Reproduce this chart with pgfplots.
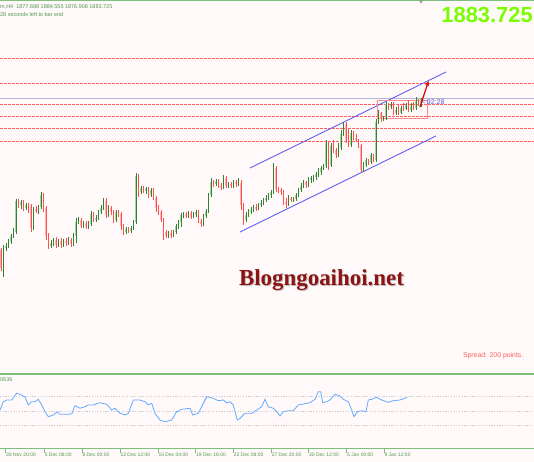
\documentclass[border=0pt]{standalone}
\usepackage{pgfplots}
\pgfplotsset{compat=1.18}
\usepackage{pgfplotstable}
\usetikzlibrary{arrows.meta}
\usepackage{fontspec}
\setmainfont{Liberation Sans}
\newfontfamily\wmfont{Liberation Serif}
\definecolor{bg}{RGB}{255,250,249}
\definecolor{bordergreen}{RGB}{125,192,125}
\definecolor{textgreen}{RGB}{80,150,80}
\definecolor{biggreen}{RGB}{124,252,0}
\definecolor{dashred}{RGB}{255,95,95}
\definecolor{pricegrey}{RGB}{180,180,215}
\definecolor{chanblue}{RGB}{95,95,240}
\definecolor{gwick}{RGB}{50,130,50}
\definecolor{gbody}{RGB}{165,212,165}
\definecolor{rwick}{RGB}{255,80,80}
\definecolor{rbody}{RGB}{255,180,180}
\definecolor{rsiblue}{RGB}{100,170,255}
\definecolor{wm}{RGB}{140,20,20}
\definecolor{timeblue}{RGB}{90,90,225}

% candles in screen units (x, open, high, low, close; y grows downward)
\pgfplotstableread{
x o h l c
1.0 250 248 271 268
3.5 270 245 277 248
6.0 248 243 251 246
8.5 246 239 248 242
11.0 242 234 244 236
13.5 236 228 238 232
16.0 232 199 234 201
18.5 201 199 208 205
21.0 205 200 209 202
23.5 202 200 211 208
26.0 208 203 210 205
28.5 205 203 213 210
31.0 206 204 232 228
33.5 228 207 230 209
36.0 209 206 213 211
38.5 211 205 214 207
41.0 207 192 209 195
43.5 195 193 212 206
46.0 208 206 240 236
48.5 236 233 249 246
51.0 246 240 248 243
53.5 243 238 246 240
56.0 240 237 248 245
58.5 245 239 247 241
61.0 241 238 248 245
63.5 245 239 247 241
66.0 241 238 246 243
68.5 243 237 245 240
71.0 240 238 247 244
73.5 244 233 246 236
76.0 236 218 243 222
78.5 222 217 224 220
81.0 220 218 228 226
83.5 226 221 228 223
86.0 223 221 229 227
88.5 227 221 229 224
91.0 224 211 226 214
93.5 214 212 222 220
96.0 220 215 222 218
98.5 218 210 220 212
101.0 212 205 214 208
103.5 208 198 210 201
106.0 201 198 218 215
108.5 215 205 217 208
111.0 208 206 215 212
113.5 212 210 223 220
116.0 220 210 222 212
118.5 212 210 217 214
121.0 214 212 230 226
123.5 226 224 235 232
126.0 232 227 234 229
128.5 229 227 233 231
131.0 231 226 233 228
133.5 228 220 230 222
136.0 222 173 224 176
138.5 176 174 197 192
141.0 192 186 194 188
143.5 188 186 193 191
146.0 191 187 194 189
148.5 189 187 198 195
151.0 195 188 197 190
153.5 190 188 200 198
156.0 198 196 212 208
158.5 208 205 215 212
161.0 212 210 222 220
163.5 220 218 240 232
166.0 232 230 238 236
168.5 236 231 238 233
171.0 233 230 238 236
173.5 236 230 237 232
176.0 232 224 234 226
178.5 226 220 229 222
181.0 222 213 227 215
183.5 215 212 218 214
186.0 214 212 218 216
188.5 216 211 218 213
191.0 213 211 219 217
193.5 217 212 218 215
196.0 215 210 217 212
198.5 212 210 223 221
201.0 221 219 227 224
203.5 224 214 226 216
206.0 216 209 218 211
208.5 211 193 213 195
211.0 195 178 197 182
213.5 182 180 187 184
216.0 184 179 186 181
218.5 181 179 188 186
221.0 186 183 190 187
223.5 187 175 189 178
226.0 178 176 188 186
228.5 186 182 188 184
231.0 184 182 188 186
233.5 186 180 188 182
236.0 182 180 187 184
238.5 184 178 186 183
241.0 183 180 210 205
243.5 205 203 225 220
246.0 220 212 222 215
248.5 215 209 217 212
251.0 212 207 214 210
253.5 210 205 212 207
256.0 207 204 211 208
258.5 208 203 210 205
261.0 205 200 207 203
263.5 203 198 205 200
266.0 200 195 202 198
268.5 198 193 200 195
271.0 195 190 198 192
273.5 192 163 194 168
276.0 168 166 192 189
278.5 189 187 193 190
281.0 190 188 195 192
283.5 192 190 205 202
286.0 202 198 208 204
288.5 204 195 206 198
291.0 198 197 202 200
293.5 200 197 202 199
296.0 199 193 201 195
298.5 195 188 197 190
301.0 190 183 192 186
303.5 186 180 188 182
306.0 182 181 188 185
308.5 185 177 187 180
311.0 180 176 183 178
313.5 178 175 182 177
316.0 177 172 180 174
318.5 174 168 177 172
321.0 172 166 175 168
323.5 168 164 170 166
326.0 166 140 168 143
328.5 143 142 170 165
331.0 165 143 167 146
333.5 146 140 153 150
336.0 150 148 158 155
338.5 155 143 157 148
341.0 148 130 150 134
343.5 134 122 136 124
346.0 124 122 143 140
348.5 140 128 147 145
351.0 145 130 147 133
353.5 133 131 140 138
356.0 138 134 142 141
358.5 141 139 148 146
361.0 146 144 172 170
363.5 170 162 172 165
366.0 165 158 167 160
368.5 160 159 165 162
371.0 162 153 164 155
373.5 155 154 162 160
376.0 160 119 162 122
378.5 122 110 124 113
381.0 113 112 122 119
383.5 119 116 121 118
386.0 118 102 120 104
388.5 104 103 110 107
391.0 107 102 109 105
393.5 105 102 115 113
396.0 113 107 115 110
398.5 110 105 115 113
401.0 113 106 114 108
403.5 108 103 111 109
406.0 109 103 110 105
408.5 105 100 112 110
411.0 110 103 112 106
413.5 106 102 110 108
416.0 108 97 110 100
418.5 100 99 106 103
421.0 103 98 107 99
}\candles

\begin{document}
\begin{tikzpicture}
\begin{axis}[
  width=534bp, height=462bp, scale only axis,
  xmin=0, xmax=534, ymin=0, ymax=462, y dir=reverse,
  axis line style={draw=none}, ticks=none,
  axis background/.style={fill=bg},
]
% horizontal levels
\addplot[dashred, line width=0.7bp, dash pattern=on 2.5bp off 1.5bp] coordinates {(0,58) (534,58)};
\addplot[dashred, line width=0.7bp, dash pattern=on 2.5bp off 1.5bp] coordinates {(0,83) (534,83)};
\addplot[dashred, line width=0.7bp, dash pattern=on 2.5bp off 1.5bp] coordinates {(0,104.3) (534,104.3)};
\addplot[dashred, line width=0.7bp, dash pattern=on 2.5bp off 1.5bp] coordinates {(0,116.7) (534,116.7)};
\addplot[dashred, line width=0.7bp, dash pattern=on 2.5bp off 1.5bp] coordinates {(0,128.3) (534,128.3)};
\addplot[dashred, line width=0.7bp, dash pattern=on 2.5bp off 1.5bp] coordinates {(0,141.3) (534,141.3)};
\addplot[pricegrey, line width=1bp] coordinates {(0,98.5) (534,98.5)};
% channel
\addplot[chanblue, line width=0.9bp] coordinates {(250,168) (446,72)};
\addplot[chanblue, line width=0.9bp] coordinates {(240,232) (436,136)};
% box
\addplot[red!45, line width=0.9bp] coordinates {(377.3,100.7) (427.7,100.7) (427.7,118.3) (377.3,118.3) (377.3,100.7)};
% candles: bodies then wicks
\addplot[draw=none, no markers, restrict expr to domain={\thisrow{o}-\thisrow{c}}{0.001:1000},
  error bars/.cd, y dir=both, y explicit, error mark=none,
  error bar style={line width=1.9bp, draw=gbody, solid}]
  table[x=x, y expr={(\thisrow{o}+\thisrow{c})/2}, y error expr={max(abs(\thisrow{o}-\thisrow{c})/2,0.5)}] {\candles};
\addplot[draw=none, no markers, restrict expr to domain={\thisrow{o}-\thisrow{c}}{-1000:0},
  error bars/.cd, y dir=both, y explicit, error mark=none,
  error bar style={line width=1.9bp, draw=rbody, solid}]
  table[x=x, y expr={(\thisrow{o}+\thisrow{c})/2}, y error expr={max(abs(\thisrow{o}-\thisrow{c})/2,0.5)}] {\candles};
\addplot[draw=none, no markers, restrict expr to domain={\thisrow{o}-\thisrow{c}}{0.001:1000},
  error bars/.cd, y dir=both, y explicit, error mark=none,
  error bar style={line width=0.75bp, draw=gwick, solid}]
  table[x=x, y expr={(\thisrow{h}+\thisrow{l})/2}, y error expr={(\thisrow{l}-\thisrow{h})/2}] {\candles};
\addplot[draw=none, no markers, restrict expr to domain={\thisrow{o}-\thisrow{c}}{-1000:0},
  error bars/.cd, y dir=both, y explicit, error mark=none,
  error bar style={line width=0.75bp, draw=rwick, solid}]
  table[x=x, y expr={(\thisrow{h}+\thisrow{l})/2}, y error expr={(\thisrow{l}-\thisrow{h})/2}] {\candles};
% arrow
\draw[-{Stealth[length=5bp,width=4bp]}, red!85!black, line width=1.2bp] (axis cs:420,107) -- (axis cs:428.5,81);
\node[anchor=west, inner sep=0pt, text=timeblue, font=\fontsize{7}{8}\selectfont] at (axis cs:421.5,102) {\textless\,92:28};
% header texts
\draw[bordergreen, line width=1bp] (axis cs:0,1) -- (axis cs:534,1);
\fill[gray!80] (axis cs:419,0.5) -- (axis cs:423,0.5) -- (axis cs:421,3.5) -- cycle;
\node[anchor=west, inner sep=0pt, text=textgreen, font=\fontsize{5.5}{6}\selectfont] at (axis cs:0,6.5) {m,H4\ \ 1877.698 1884.555 1876.908 1883.725};
\node[anchor=west, inner sep=0pt, text=textgreen, font=\fontsize{5.5}{6}\selectfont] at (axis cs:0,14.5) {28 seconds left to bar end};
\node[anchor=east, inner sep=0pt, text=biggreen, font=\fontsize{22}{24}\selectfont\bfseries] at (axis cs:533,15.3) {1883.725};
% watermark
\node[text=black!25, font=\wmfont\fontsize{23}{26}\selectfont\bfseries] at (axis cs:322.5,281.5) {Blogngoaihoi.net};
\node[text=wm, font=\wmfont\fontsize{23}{26}\selectfont\bfseries] at (axis cs:321.5,280.5) {Blogngoaihoi.net};
\node[anchor=east, inner sep=0pt, text=dashred, font=\fontsize{6.9}{8}\selectfont] at (axis cs:523.5,356) {Spread: 200 points.};
% indicator panel
\draw[bordergreen, line width=2bp] (axis cs:0,374) -- (axis cs:534,374);
\node[anchor=west, inner sep=0pt, text=textgreen, font=\fontsize{5.5}{6}\selectfont] at (axis cs:0,380) {0636};
\addplot[gray!40, line width=0.7bp, dash pattern=on 1.2bp off 1.5bp] coordinates {(0,396.7) (534,396.7)};
\addplot[gray!40, line width=0.7bp, dash pattern=on 1.2bp off 1.5bp] coordinates {(0,411) (534,411)};
\addplot[gray!40, line width=0.7bp, dash pattern=on 1.2bp off 1.5bp] coordinates {(0,425.7) (534,425.7)};
\addplot[rsiblue, line width=0.8bp] coordinates {
(0,410) (3.3,401.7) (6.7,400) (11.7,400) (16.7,393.3) (20,394.3) (25,396.7) (28.3,405)
(31.7,401.7) (35,401.7) (38.3,399.3) (41.7,405) (45,411.7) (48.3,416.7) (53.3,415)
(57.3,411.7) (60,414.3) (65,414.3) (71.7,414) (75,405.7) (80,408.3) (85,406.7) (88.3,405)
(93.3,405) (100,402.7) (106.7,404.3) (111.7,410) (115,408.3) (120,413.3) (125,415)
(128.3,413.3) (133.3,400) (140,400) (145,401.7) (148.3,405) (151.7,403.3) (155,413.3)
(160,420) (165,421.7) (171.7,420) (176.7,411.7) (181.7,409.3) (190,408.3) (192.7,415)
(198.3,413.3) (201.7,406.7) (206.7,396.7) (213.3,398.3) (218.3,400.7) (223.3,400)
(226.7,402.7) (230,401.7) (233.3,405) (235,411.7) (237.3,420) (240,418.3) (245,413.3)
(251.7,413.3) (256.7,410) (261.7,406.7) (265,399.3) (268.3,406.7) (273.3,408.3)
(276.7,411.7) (280,416) (283.3,411.7) (288.3,410.7) (293.3,410.7) (298.3,405) (303.3,404)
(310,402.7) (315,399.3) (318.3,391.7) (320.7,391.7) (322.7,402.7) (326.7,401.7) (330,400)
(335,394.3) (340,396) (343.3,399.3) (348.3,401.7) (351.7,410) (354,416.7) (357.3,411.7)
(361.7,410.7) (366,411.7) (368.3,400) (371.7,399.3) (376.7,397.3) (381.7,400)
(388.3,402.3) (393.3,400.7) (400,400) (407.3,397.3)};
\draw[bordergreen, line width=1bp] (axis cs:0,448.3) -- (axis cs:534,448.3);
% time axis ticks
\addplot[draw=none, no markers, error bars/.cd, y dir=both, y explicit, error mark=none,
  error bar style={line width=0.7bp, draw=bordergreen, solid}]
  coordinates {(5.7,450.4) +- (0,2.1) (44.3,450.4) +- (0,2.1) (82,450.4) +- (0,2.1) (120,450.4) +- (0,2.1) (158,450.4) +- (0,2.1) (195.7,450.4) +- (0,2.1) (233.3,450.4) +- (0,2.1) (271.3,450.4) +- (0,2.1) (308.7,450.4) +- (0,2.1) (346.7,450.4) +- (0,2.1) (384,450.4) +- (0,2.1)};
\node[anchor=west, inner sep=0pt, text=textgreen, font=\fontsize{5}{6}\selectfont] at (axis cs:6,454.5) {30 Nov 20:00};
\node[anchor=west, inner sep=0pt, text=textgreen, font=\fontsize{5}{6}\selectfont] at (axis cs:44.6,454.5) {5 Dec 08:00};
\node[anchor=west, inner sep=0pt, text=textgreen, font=\fontsize{5}{6}\selectfont] at (axis cs:82.3,454.5) {8 Dec 00:00};
\node[anchor=west, inner sep=0pt, text=textgreen, font=\fontsize{5}{6}\selectfont] at (axis cs:120.3,454.5) {12 Dec 12:00};
\node[anchor=west, inner sep=0pt, text=textgreen, font=\fontsize{5}{6}\selectfont] at (axis cs:158.3,454.5) {15 Dec 04:00};
\node[anchor=west, inner sep=0pt, text=textgreen, font=\fontsize{5}{6}\selectfont] at (axis cs:196,454.5) {19 Dec 16:00};
\node[anchor=west, inner sep=0pt, text=textgreen, font=\fontsize{5}{6}\selectfont] at (axis cs:233.6,454.5) {22 Dec 08:00};
\node[anchor=west, inner sep=0pt, text=textgreen, font=\fontsize{5}{6}\selectfont] at (axis cs:271.6,454.5) {27 Dec 20:00};
\node[anchor=west, inner sep=0pt, text=textgreen, font=\fontsize{5}{6}\selectfont] at (axis cs:309,454.5) {30 Dec 12:00};
\node[anchor=west, inner sep=0pt, text=textgreen, font=\fontsize{5}{6}\selectfont] at (axis cs:347,454.5) {5 Jan 00:00};
\node[anchor=west, inner sep=0pt, text=textgreen, font=\fontsize{5}{6}\selectfont] at (axis cs:384.3,454.5) {9 Jan 12:00};
\end{axis}
\end{tikzpicture}
\end{document}
